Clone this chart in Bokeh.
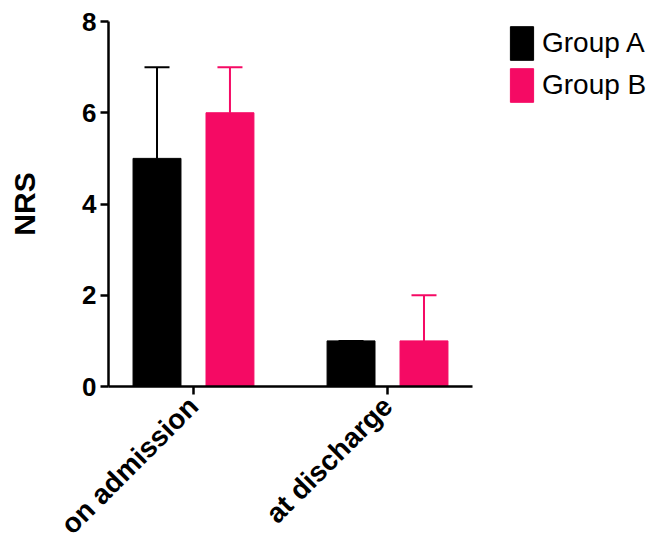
import math
from bokeh.plotting import figure
from bokeh.models import (ColumnDataSource, FixedTicker, Legend, LegendItem,
                          Whisker, TeeHead)
from bokeh.transform import dodge
from bokeh.embed import file_html
from bokeh.resources import INLINE

# Pain scores (NRS) per time point, mean bar with upper error
categories = ["on admission", "at discharge"]
group_a_mean = [5, 1]
group_a_upper = [7, 1]
group_b_mean = [6, 1]
group_b_upper = [7, 2]
y_ticks = [0, 2, 4, 6, 8]

BLACK = "#000000"
PINK = "#F50A64"
FONT = "Liberation Sans"

pos = [i + 1 for i in range(len(categories))]
src_a = ColumnDataSource(dict(x=pos, mean=group_a_mean, upper=group_a_upper))
src_b = ColumnDataSource(dict(x=pos, mean=group_b_mean, upper=group_b_upper))

p = figure(frame_width=364, frame_height=365,
           x_range=(0.562, 2.438), y_range=(0, 8),
           min_border_left=108, min_border_top=21, min_border_right=0,
           min_border_bottom=0,
           output_backend="svg", toolbar_location=None,
           background_fill_color="white", border_fill_color="white")
p.outline_line_color = None
p.grid.visible = False

off = 0.188
bw = 0.247
ra = p.vbar(x=dodge("x", -off, range=p.x_range), top="mean", width=bw,
            source=src_a, fill_color=BLACK, line_color=BLACK)
rb = p.vbar(x=dodge("x", off, range=p.x_range), top="mean", width=bw,
            source=src_b, fill_color=PINK, line_color=PINK)

for src, col, sign in ((src_a, BLACK, -1), (src_b, PINK, 1)):
    w = Whisker(base=dodge("x", sign * off, range=p.x_range), lower="mean",
                upper="upper", source=src, line_color=col, line_width=2,
                upper_head=TeeHead(size=25, line_color=col, line_width=2),
                lower_head=None)
    p.add_layout(w)

# axes
p.xaxis.ticker = FixedTicker(ticks=pos)
p.xaxis.major_label_overrides = {pp: c for pp, c in zip(pos, categories)}
p.xaxis.major_label_orientation = math.pi / 4
p.xaxis.major_label_text_font = FONT
p.xaxis.major_label_text_font_style = "bold"
p.xaxis.major_label_text_font_size = "28px"
p.xaxis.major_label_text_color = BLACK
p.xaxis.major_label_standoff = 7

p.yaxis.ticker = FixedTicker(ticks=y_ticks)
p.yaxis.major_label_text_font = FONT
p.yaxis.major_label_text_font_style = "bold"
p.yaxis.major_label_text_font_size = "26px"
p.yaxis.major_label_text_color = BLACK
p.yaxis.major_label_standoff = 4
p.yaxis.axis_label = "NRS"
p.yaxis.axis_label_text_font = FONT
p.yaxis.axis_label_text_font_style = "bold"
p.yaxis.axis_label_text_font_size = "30px"
p.yaxis.axis_label_text_color = BLACK
p.yaxis.axis_label_standoff = 38

for ax in (p.xaxis, p.yaxis):
    ax.axis_line_width = 2.5
    ax.axis_line_color = BLACK
    ax.major_tick_line_width = 2.5
    ax.major_tick_line_color = BLACK
    ax.major_tick_out = 8
    ax.major_tick_in = 0
    ax.minor_tick_line_color = None

legend = Legend(items=[LegendItem(label="Group A", renderers=[ra]),
                       LegendItem(label="Group B", renderers=[rb])],
                location=(35, 280), margin=0, padding=0, spacing=0,
                glyph_width=29, glyph_height=42, label_standoff=6,
                label_text_font=FONT, label_text_font_size="28px",
                label_text_color=BLACK, border_line_color=None,
                background_fill_alpha=0)
p.add_layout(legend, "right")

open("out.html", "w").write(file_html(p, INLINE))
